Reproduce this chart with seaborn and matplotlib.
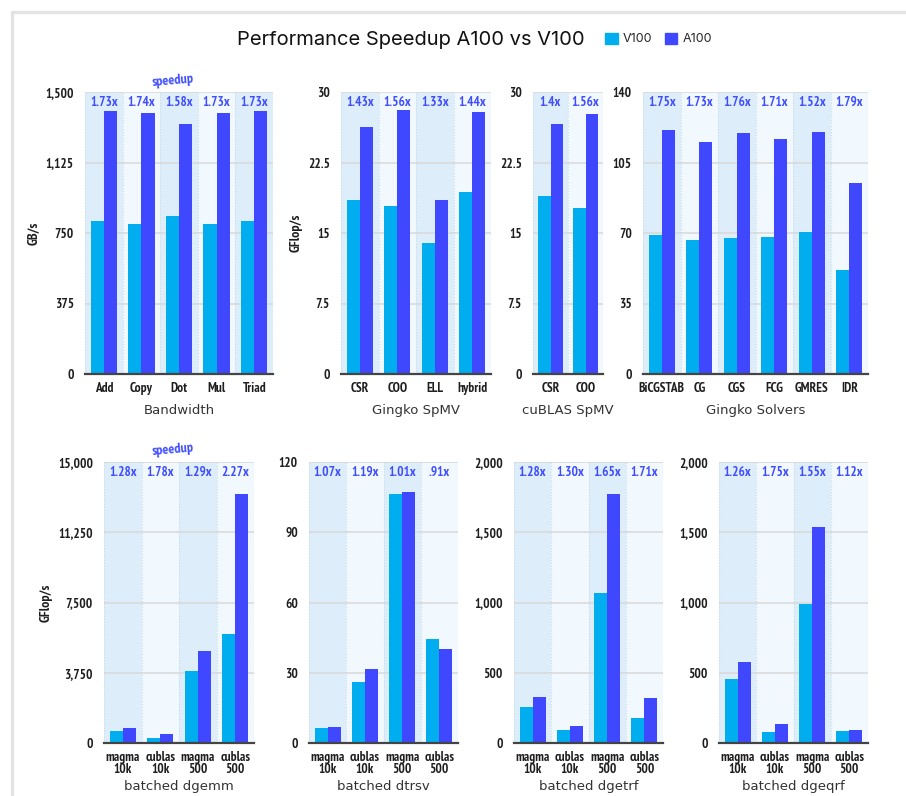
import numpy as np
import pandas as pd
import matplotlib
matplotlib.use("Agg")
import matplotlib.pyplot as plt
from matplotlib import font_manager as fm
from matplotlib.patches import Patch
from matplotlib.lines import Line2D
import seaborn as sns

sns.set_theme(style="white")

# a condensed bold face for the small labels (close to the original Univers Condensed)
nfp = None
for fam in ["PT Sans Narrow", "Roboto Condensed", "Asap Condensed"]:
    hits = [f for f in fm.fontManager.ttflist
            if f.name == fam and f.weight in (700, "bold") and f.style == "normal"]
    if hits:
        nfp = fm.FontProperties(fname=hits[0].fname)
        break
if nfp is None:
    nfp = fm.FontProperties(family="Liberation Sans", weight="bold")

# ---- data ----
bw_cats = ["Add", "Copy", "Dot", "Mul", "Triad"]
bw_v100 = [812, 800, 842, 800, 812]
bw_a100 = [1399, 1388, 1328, 1388, 1399]
bw_speed = ["1.73x", "1.74x", "1.58x", "1.73x", "1.73x"]

spmv_cats = ["CSR", "COO", "ELL", "hybrid"]
spmv_v100 = [18.5, 17.9, 13.9, 19.4]
spmv_a100 = [26.3, 28.1, 18.5, 27.9]
spmv_speed = ["1.43x", "1.56x", "1.33x", "1.44x"]

cub_cats = ["CSR", "COO"]
cub_v100 = [18.9, 17.7]
cub_a100 = [26.6, 27.7]
cub_speed = ["1.4x", "1.56x"]

sol_cats = ["BiCGSTAB", "CG", "CGS", "FCG", "GMRES", "IDR"]
sol_v100 = [69.2, 66.4, 67.5, 68.2, 70.5, 51.8]
sol_a100 = [121.1, 115.2, 119.6, 116.7, 120.3, 94.7]
sol_speed = ["1.75x", "1.73x", "1.76x", "1.71x", "1.52x", "1.79x"]

batch_cats = ["magma\n10k", "cublas\n10k", "magma\n500", "cublas\n500"]
dgemm_v100 = [624, 268, 3817, 5832]
dgemm_a100 = [820, 464, 4923, 13270]
dgemm_speed = ["1.28x", "1.78x", "1.29x", "2.27x"]

dtrsv_v100 = [6.4, 26.1, 106.3, 44.2]
dtrsv_a100 = [7.0, 31.5, 107.3, 40.2]
dtrsv_speed = ["1.07x", "1.19x", "1.01x", ".91x"]

dgetrf_v100 = [257, 90, 1070, 181]
dgetrf_a100 = [328, 124, 1769, 321]
dgetrf_speed = ["1.28x", "1.30x", "1.65x", "1.71x"]

dgeqrf_v100 = [452, 76, 989, 83]
dgeqrf_a100 = [573, 133, 1534, 93]
dgeqrf_speed = ["1.26x", "1.75x", "1.55x", "1.12x"]

C_V100 = "#00AEEF"
C_A100 = "#4048FF"
C_TXT = "#3F4DFF"
BAND_DARK = "#DDEEFA"
BAND_LIGHT = "#F1F8FE"

LBL = 9.5

W, H = 906, 796
fig = plt.figure(figsize=(W / 100, H / 100), dpi=100)
fig.patch.set_facecolor("white")


def px_axes(x0, x1, ytop, ybot):
    return fig.add_axes([x0 / W, 1 - ybot / H, (x1 - x0) / W, (ybot - ytop) / H])


def fmt(v):
    if float(v).is_integer():
        return f"{int(v):,}"
    return f"{v:g}"


def small(size, style=None):
    p = nfp.copy()
    p.set_size(size)
    if style:
        p.set_style(style)
    return p


def panel(ax, cats, v, a, speed, ymax, title, ylabel=None, tpad=6):
    n = len(cats)
    df = pd.DataFrame({"cat": cats * 2, "gpu": ["V100"] * n + ["A100"] * n, "val": v + a})
    sns.barplot(data=df, x="cat", y="val", hue="gpu", hue_order=["V100", "A100"],
                palette=[C_V100, C_A100], width=0.7, saturation=1, legend=False,
                edgecolor="none", linewidth=0, ax=ax, zorder=3)
    for i in range(n):
        ax.axvspan(i - 0.5, i + 0.5, color=BAND_DARK if i % 2 == 0 else BAND_LIGHT, lw=0, zorder=0)
    ticks = np.linspace(0, ymax, 5)
    for t in ticks[1:]:
        ax.axhline(t, color="#DADADA", lw=1.2, zorder=1)
    for i in range(n + 1):
        ax.axvline(i - 0.5, color="#C8DCEA", lw=0.8, ls=":", zorder=1)
    ax.set_xlim(-0.5, n - 0.5)
    ax.set_ylim(0, ymax)
    ax.set_yticks(ticks)
    ax.set_yticklabels([fmt(t) for t in ticks], fontproperties=small(LBL), color="#1E1E1E")
    ax.set_xticks(range(n))
    ax.set_xticklabels(cats, fontproperties=small(LBL), color="#1E1E1E", linespacing=0.85)
    ax.tick_params(axis="x", length=0, pad=6)
    ax.tick_params(axis="y", length=0, pad=8)
    for s in ["left", "top", "right"]:
        ax.spines[s].set_visible(False)
    ax.spines["bottom"].set_color("#444444")
    ax.spines["bottom"].set_linewidth(1.6)
    ax.spines["bottom"].set_zorder(4)
    ax.set_xlabel(title, fontsize=9.5, color="#333333", labelpad=tpad, fontfamily="DejaVu Sans")
    if ylabel:
        ax.set_ylabel(ylabel, fontproperties=small(LBL + 0.5), color="#1E1E1E", labelpad=4)
    else:
        ax.set_ylabel("")
    for i, s in enumerate(speed):
        ax.text(i, ymax * 0.962, s, ha="center", va="center", color=C_TXT,
                fontproperties=small(LBL), zorder=5)


top_y = (92, 374)
bot_y = (462, 743)

panel(px_axes(85, 273, *top_y), bw_cats, bw_v100, bw_a100, bw_speed, 1500, "Bandwidth", "GB/s")
panel(px_axes(341, 491, *top_y), spmv_cats, spmv_v100, spmv_a100, spmv_speed, 30, "Gingko SpMV", "GFlop/s")
panel(px_axes(533, 603, *top_y), cub_cats, cub_v100, cub_a100, cub_speed, 30, "cuBLAS SpMV")
panel(px_axes(643, 868, *top_y), sol_cats, sol_v100, sol_a100, sol_speed, 140, "Gingko Solvers")

panel(px_axes(104, 254, *bot_y), batch_cats, dgemm_v100, dgemm_a100, dgemm_speed, 15000, "batched dgemm", "GFlop/s", 3)
panel(px_axes(309, 458, *bot_y), batch_cats, dtrsv_v100, dtrsv_a100, dtrsv_speed, 120, "batched dtrsv", None, 3)
panel(px_axes(514, 663, *bot_y), batch_cats, dgetrf_v100, dgetrf_a100, dgetrf_speed, 2000, "batched dgetrf", None, 3)
panel(px_axes(719, 868, *bot_y), batch_cats, dgeqrf_v100, dgeqrf_a100, dgeqrf_speed, 2000, "batched dgeqrf", None, 3)

# "speedup" tags
for (x, y) in [(173, 81), (173, 450)]:
    fig.text(x / W, 1 - y / H, "speedup", ha="center", va="center", color=C_TXT,
             fontproperties=small(LBL + 0.5, "italic"), rotation=5)

# title and legend
fig.text(411 / W, 1 - 40 / H, "Performance Speedup A100 vs V100", ha="center", va="center",
         fontsize=14.5, color="#111111", fontfamily="Inter")
handles = [Patch(color=C_V100, label="V100"), Patch(color=C_A100, label="A100")]
fig.legend(handles=handles, loc="center left", bbox_to_anchor=(594 / W, 1 - 39 / H),
           ncol=2, frameon=False, handlelength=1.0, handleheight=1.0, handletextpad=0.4,
           columnspacing=1.0, prop={"family": "Inter", "size": 9})

# light grey frame on left and top
fig.add_artist(Line2D([11.5 / W, 11.5 / W], [0, 1 - 11.5 / H], color="#E3E3E3", lw=2.4,
                      transform=fig.transFigure))
fig.add_artist(Line2D([11.5 / W, 1], [1 - 11.5 / H, 1 - 11.5 / H], color="#E3E3E3", lw=2.4,
                      transform=fig.transFigure))

fig.savefig("out.png", dpi=100, facecolor="white")
